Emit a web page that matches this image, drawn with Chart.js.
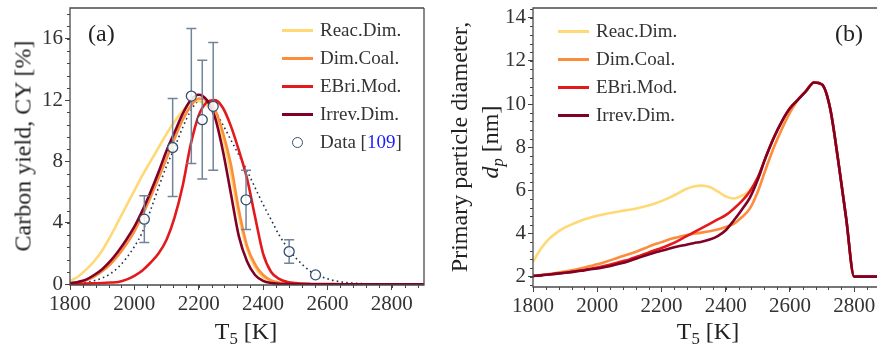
<!DOCTYPE html>
<html>
<head>
<meta charset="utf-8">
<script src="https://cdn.jsdelivr.net/npm/chart.js@4.4.1/dist/chart.umd.min.js"></script>
<style>
  body { margin: 0; background: #fff; }
  #wrap { position: relative; width: 877px; height: 345px; overflow: hidden; font-family: 'Liberation Serif', serif; color: #222; }
  canvas { position: absolute; top: 0; }
  .lbl { position: absolute; white-space: nowrap; font-size: 24px; }
  .rot { transform: translate(-50%, -50%) rotate(-90deg); }
  .ctr { transform: translate(-50%, -50%); }
  sub { font-size: 70%; vertical-align: -0.3em; line-height: 0; }
  .leg { position: absolute; font-size: 19px; color: #333; white-space: nowrap; }
  .leg div { height: 28px; display: flex; align-items: center; }
  .leg .ln { display: inline-block; width: 31px; height: 0; border-top: 3px solid; margin-right: 7px; }
  .leg .mk { display: inline-flex; width: 31px; justify-content: center; margin-right: 7px; }
  .leg .mk i { display: block; width: 9px; height: 9px; border: 1.4px solid #34506e; border-radius: 50%; background: #fff; }
</style>
</head>
<body>
<div id="wrap">
  <canvas id="ca" width="440" height="345" style="left:0"></canvas>
  <canvas id="cb" width="437" height="345" style="left:440px"></canvas>

  <div class="lbl rot" style="left:23px; top:146px">Carbon yield, CY [%]</div>
  <div class="lbl ctr" style="left:246px; top:331px">T<sub>5</sub> [K]</div>
  <div class="lbl" style="left:88px; top:20px">(a)</div>

  <div class="lbl rot" style="left:459px; top:147px">Primary particle diameter,</div>
  <div class="lbl rot" style="left:490px; top:142px"><i>d<sub>p</sub></i> [nm]</div>
  <div class="lbl ctr" style="left:708px; top:331px">T<sub>5</sub> [K]</div>
  <div class="lbl" style="left:835px; top:20px">(b)</div>

  <div class="leg" style="left:282px; top:16px">
    <div><span class="ln" style="border-color:#fed976"></span>Reac.Dim.</div>
    <div><span class="ln" style="border-color:#fd8d3c"></span>Dim.Coal.</div>
    <div><span class="ln" style="border-color:#e31a1c"></span>EBri.Mod.</div>
    <div><span class="ln" style="border-color:#800026"></span>Irrev.Dim.</div>
    <div><span class="mk"><i></i></span>Data [<span style="color:#1a1aff">109</span>]</div>
  </div>
  <div class="leg" style="left:558px; top:17px">
    <div><span class="ln" style="border-color:#fed976"></span>Reac.Dim.</div>
    <div><span class="ln" style="border-color:#fd8d3c"></span>Dim.Coal.</div>
    <div><span class="ln" style="border-color:#e31a1c"></span>EBri.Mod.</div>
    <div><span class="ln" style="border-color:#800026"></span>Irrev.Dim.</div>
  </div>
</div>

<script>
// ---- panel (a): carbon yield vs T5 ----
const tA = [1800,1825,1850,1875,1900,1925,1950,1975,2000,2025,2050,2075,2100,2125,2150,2175,2200,2225,2250,2275,2300,2325,2350,2375,2400,2425,2450,2475,2500,2550,2600,2650,2700,2800,2900];
const reacA  = [0.2,0.5,0.95,1.5,2.2,3.1,4.1,5.1,6.1,7.1,8.0,8.9,9.8,10.6,11.3,11.85,11.95,11.7,11.0,9.5,7.2,4.4,2.3,1.1,0.45,0.18,0.07,0.03,0.01,0,0,0,0,0,0];
const coalA  = [0.06,0.12,0.25,0.5,0.85,1.3,1.9,2.6,3.45,4.5,5.65,6.9,8.2,9.5,10.7,11.6,12.1,12.0,11.4,9.9,7.8,4.8,2.5,1.3,0.6,0.25,0.1,0.04,0.01,0,0,0,0,0,0];
const ebriA  = [0.02,0.03,0.04,0.06,0.08,0.11,0.15,0.3,0.55,0.9,1.4,2.0,2.9,4.35,6.4,9.1,11.0,11.85,12.0,11.5,10.3,8.7,6.9,4.4,2.0,0.8,0.35,0.15,0.07,0.02,0.01,0,0,0,0];
const irrevA = [0.07,0.15,0.3,0.6,0.98,1.5,2.15,2.9,3.75,4.8,6.0,7.3,8.7,9.9,11.1,12.0,12.35,12.0,10.9,8.7,5.9,3.1,1.5,0.6,0.22,0.08,0.03,0.01,0,0,0,0,0,0,0];
const fitA   = [0.03,0.07,0.13,0.23,0.4,0.68,1.1,1.7,2.45,3.4,4.8,6.3,7.7,8.9,10.2,11.3,11.9,11.9,11.3,10.4,9.4,8.4,7.4,6.3,5.2,4.2,3.2,2.4,1.75,0.8,0.35,0.13,0.05,0,0];

const tData   = [2031,2119,2177,2211,2245,2347,2481,2563];
const cyData  = [4.24,8.91,12.26,10.72,11.59,5.5,2.13,0.61];
const errData = [1.52,3.2,4.4,3.87,4.17,1.93,0.77,0];

const xTicksA = [1800,2000,2200,2400,2600,2800];
const yTicksA = [0,4,8,12,16];

// ---- panel (b): primary particle diameter vs T5 ----
const tB = [1800,1825,1850,1875,1900,1925,1950,1975,2000,2025,2050,2075,2100,2125,2150,2175,2200,2225,2250,2275,2300,2325,2350,2375,2400,2425,2450,2475,2500,2525,2550,2575,2600,2625,2650,2675,2700,2725,2750,2775,2800,2850,2900];
const reacB  = [2.69,3.3,3.75,4.05,4.28,4.45,4.6,4.72,4.82,4.9,4.97,5.04,5.1,5.17,5.26,5.37,5.5,5.66,5.85,6.05,6.18,6.22,6.15,5.95,5.72,5.62,5.75,6.0,6.6,7.55,8.45,9.2,9.8,10.2,10.6,11.0,10.9,9.8,7.4,4.7,2.0,2.0,2.0];
const coalB  = [2.03,2.07,2.12,2.18,2.24,2.31,2.39,2.48,2.57,2.68,2.8,2.93,3.05,3.18,3.33,3.48,3.6,3.73,3.83,3.92,3.99,4.04,4.1,4.18,4.3,4.45,4.75,5.15,5.95,7.0,8.0,8.85,9.6,10.2,10.6,11.0,10.9,9.8,7.4,4.7,2.0,2.0,2.0];
const ebriB  = [2.03,2.06,2.1,2.14,2.18,2.23,2.29,2.35,2.42,2.5,2.6,2.7,2.8,2.93,3.06,3.2,3.33,3.48,3.65,3.85,4.05,4.25,4.45,4.65,4.85,5.15,5.5,5.95,6.6,7.55,8.45,9.2,9.8,10.2,10.6,11.0,10.9,9.8,7.4,4.7,2.0,2.0,2.0];
const irrevB = [2.03,2.06,2.1,2.14,2.18,2.22,2.27,2.33,2.38,2.45,2.53,2.62,2.73,2.85,2.98,3.1,3.2,3.3,3.4,3.47,3.55,3.62,3.72,3.88,4.15,4.6,5.1,5.65,6.5,7.55,8.45,9.2,9.8,10.2,10.6,11.0,10.9,9.8,7.4,4.7,2.0,2.0,2.0];

const xTicksB = [1800,2000,2200,2400,2600,2800];
const yTicksB = [2,4,6,8,10,12,14];

const names  = ['Reac.Dim.', 'Dim.Coal.', 'EBri.Mod.', 'Irrev.Dim.'];
const colors = ['#fed976', '#fd8d3c', '#e31a1c', '#800026'];

const SERIF = "'Liberation Serif', 'DejaVu Serif', serif";
Chart.defaults.font.family = SERIF;
Chart.defaults.color = '#333';

const xy = (xs, ys) => xs.map((x, i) => ({x: x, y: ys[i]}));

// frame, minor ticks and error bars
const extras = {
  id: 'extras',
  beforeDatasetDraw(chart, args) {
    const ds = chart.data.datasets[args.index];
    if (!ds.errors) return;
    const {ctx, scales: {x, y}} = chart;
    ctx.save();
    ctx.strokeStyle = '#71849a';
    ctx.lineWidth = 1.5;
    ds.data.forEach((p, i) => {
      const e = ds.errors[i];
      if (!e) return;
      const px = x.getPixelForValue(p.x);
      const y1 = y.getPixelForValue(p.y + e), y2 = y.getPixelForValue(p.y - e);
      ctx.beginPath();
      ctx.moveTo(px, y1); ctx.lineTo(px, y2);
      ctx.moveTo(px - 5, y1); ctx.lineTo(px + 5, y1);
      ctx.moveTo(px - 5, y2); ctx.lineTo(px + 5, y2);
      ctx.stroke();
    });
    ctx.restore();
  },
  afterDraw(chart, args, opts) {
    const {ctx, chartArea: a, scales: {x, y}} = chart;
    ctx.save();
    ctx.strokeStyle = '#444';
    ctx.lineWidth = 1;
    ctx.beginPath();
    for (let k = Math.ceil(x.min / opts.minorX); k * opts.minorX <= x.max; k++) {
      const px = Math.round(x.getPixelForValue(k * opts.minorX)) + 0.5;
      ctx.moveTo(px, a.bottom); ctx.lineTo(px, a.bottom + 3);
    }
    for (let k = Math.ceil(y.min / opts.minorY - 1e-9); k * opts.minorY <= y.max; k++) {
      const py = Math.round(y.getPixelForValue(k * opts.minorY)) + 0.5;
      ctx.moveTo(a.left, py); ctx.lineTo(a.left - 3, py);
    }
    ctx.stroke();
    ctx.strokeStyle = '#4a4a4a';
    ctx.lineWidth = 1.3;
    ctx.beginPath();
    ctx.moveTo(a.right, a.top); ctx.lineTo(a.left, a.top); ctx.lineTo(a.left, a.bottom); ctx.lineTo(a.right, a.bottom);
    if (opts.right) { ctx.lineTo(a.right, a.top); }
    ctx.stroke();
    ctx.restore();
  }
};

function axes(xr, yr, xTicks, yTicks, yW, xH) {
  const grid = {drawOnChartArea: false, drawTicks: true, tickLength: 5, color: '#444', lineWidth: 1};
  const tickFont = {family: SERIF, size: 21};
  return {
    x: {
      type: 'linear', min: xr[0], max: xr[1],
      grid: grid, border: {display: false},
      afterBuildTicks: s => { s.ticks = xTicks.map(v => ({value: v})); },
      afterFit: s => { s.height = xH; s.paddingLeft = 0; s.paddingRight = 0; },
      ticks: {font: tickFont, color: '#333', padding: 2, maxRotation: 0, autoSkip: false, callback: v => String(v)}
    },
    y: {
      type: 'linear', min: yr[0], max: yr[1],
      grid: grid, border: {display: false},
      afterBuildTicks: s => { s.ticks = yTicks.map(v => ({value: v})); },
      afterFit: s => { s.width = yW; s.paddingTop = 0; s.paddingBottom = 0; },
      ticks: {font: tickFont, color: '#333', padding: 2, autoSkip: false, callback: v => String(v)}
    }
  };
}

function curve(label, xs, ys, color, order) {
  return {
    label: label, data: xy(xs, ys), borderColor: color, borderWidth: 2.6,
    pointRadius: 0, cubicInterpolationMode: 'monotone', order: order
  };
}

const baseOpts = {
  responsive: false, animation: false, devicePixelRatio: 1,
  events: [],
  plugins: {legend: {display: false}, tooltip: {enabled: false}}
};

new Chart(document.getElementById('ca'), {
  type: 'line',
  data: {
    datasets: [
      {
        label: 'Data', type: 'scatter', data: xy(tData, cyData), errors: errData,
        pointRadius: 5, pointBorderWidth: 1.3, pointBorderColor: '#34506e',
        pointBackgroundColor: 'rgba(255,255,255,0.85)', showLine: false, order: 0
      },
      curve(names[3], tA, irrevA, colors[3], 1),
      curve(names[2], tA, ebriA, colors[2], 2),
      curve(names[1], tA, coalA, colors[1], 3),
      curve(names[0], tA, reacA, colors[0], 4),
      {
        label: 'Fit', data: xy(tA, fitA), borderColor: '#1c3250', borderWidth: 1.6,
        borderDash: [1.6, 3.2], pointRadius: 0, cubicInterpolationMode: 'monotone', order: 5
      }
    ]
  },
  options: Object.assign({}, baseOpts, {
    layout: {padding: {top: 8, right: 16, left: 0, bottom: 0}},
    scales: axes([1800, 2900], [-0.05, 18], xTicksA, yTicksA, 70, 60),
    plugins: Object.assign({}, baseOpts.plugins, {extras: {minorX: 40, minorY: 0.8, right: true}})
  }),
  plugins: [extras]
});

new Chart(document.getElementById('cb'), {
  type: 'line',
  data: {
    datasets: [
      curve(names[3], tB, irrevB, colors[3], 1),
      curve(names[2], tB, ebriB, colors[2], 2),
      curve(names[1], tB, coalB, colors[1], 3),
      curve(names[0], tB, reacB, colors[0], 4)
    ]
  },
  options: Object.assign({}, baseOpts, {
    layout: {padding: {top: 8, right: 0, left: 0, bottom: 0}},
    scales: axes([1800, 2871], [1.52, 14.45], xTicksB, yTicksB, 93, 58),
    plugins: Object.assign({}, baseOpts.plugins, {extras: {minorX: 40, minorY: 0.4, right: false}})
  }),
  plugins: [extras]
});
</script>
</body>
</html>
